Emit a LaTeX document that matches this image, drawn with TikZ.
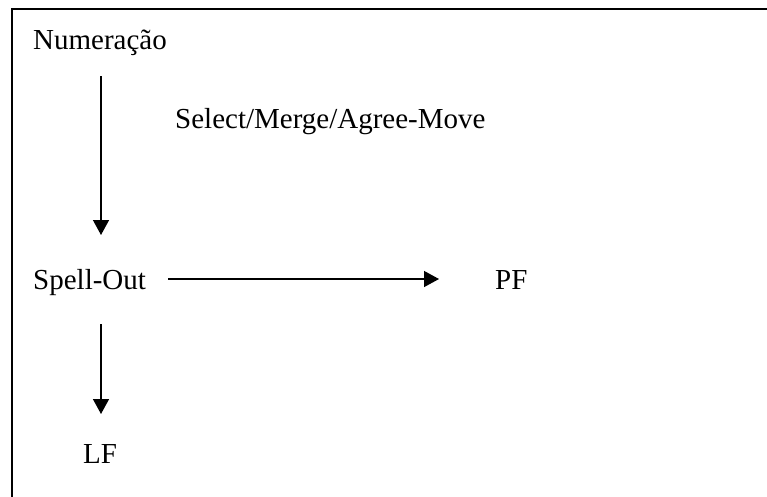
\documentclass[tikz,border=0pt]{standalone}
\usepackage{fontspec}
\setmainfont{Liberation Serif}
\usetikzlibrary{arrows.meta}
\begin{document}
\begin{tikzpicture}[x=1pt,y=-1pt,
  lbl/.style={anchor=base west,inner sep=0pt,font=\fontsize{29}{33}\selectfont},
  conn/.style={line width=1.4pt,-{Triangle[width=16pt,length=15pt]}},
  frame/.style={line width=2pt}]
\useasboundingbox (0,0) rectangle (767,496);
\draw[frame] (11.5,520) -- (11.5,8.5) -- (790,8.5);
\node[lbl] (num) at (33,49) {Numeração};
\node[lbl] (ops) at (175,128) {Select/Merge/Agree-Move};
\node[lbl] (so) at (33,289) {Spell-Out};
\node[lbl] (pf) at (495,289) {PF};
\node[lbl] (lf) at (83,463) {LF};
\coordinate (a1s) at (101,76);
\coordinate (a1e) at (101,235);
\coordinate (a2s) at (101,324);
\coordinate (a2e) at (101,414);
\coordinate (a3s) at (168,279);
\coordinate (a3e) at (439,279);
\draw[conn] (a1s) -- (a1e);
\draw[conn] (a2s) -- (a2e);
\draw[conn] (a3s) -- (a3e);
\end{tikzpicture}
\end{document}
